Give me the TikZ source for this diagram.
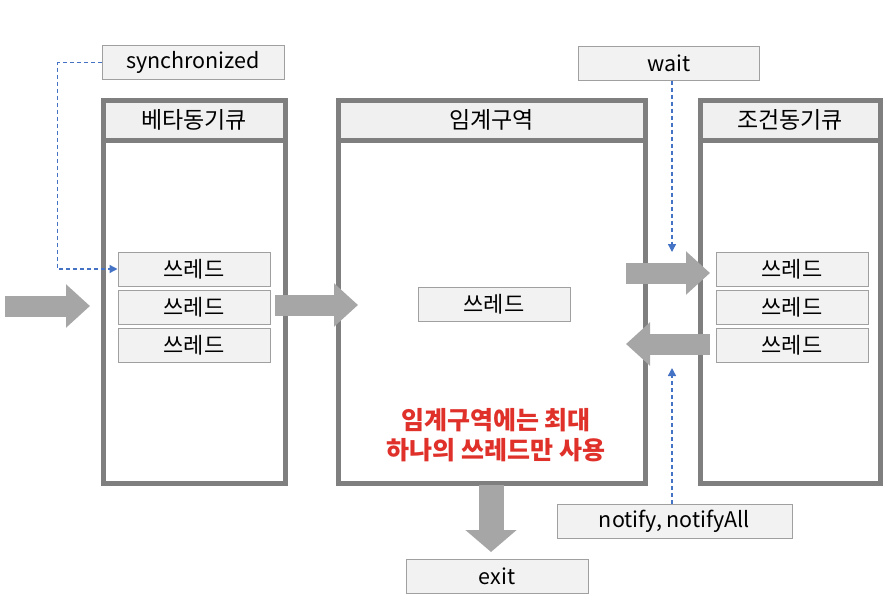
\documentclass[tikz,border=0pt]{standalone}
\usepackage{fontspec}
\setmainfont{Noto Sans CJK KR}
\usetikzlibrary{arrows.meta}
\definecolor{qgray}{HTML}{7F7F7F}
\definecolor{hdrfill}{HTML}{F0F0F0}
\definecolor{thfill}{HTML}{F2F2F2}
\definecolor{thline}{HTML}{A0A0A0}
\definecolor{arrgray}{HTML}{A6A6A6}
\definecolor{dashblue}{HTML}{4472C4}
\definecolor{redtxt}{HTML}{E0302A}
\begin{document}
\begin{tikzpicture}[x=1pt,y=-1pt,
  qbox/.style={draw=qgray,line width=5pt,fill=white,inner sep=0pt},
  hdrbox/.style={draw=qgray,line width=5pt,fill=hdrfill,inner sep=0pt,minimum height=40pt,anchor=north,
    font=\fontsize{23}{26}\selectfont},
  thread/.style={draw=thline,line width=1pt,fill=thfill,minimum width=152pt,minimum height=34pt,inner sep=0pt,
    font=\fontsize{22}{25}\selectfont},
  label/.style={draw=thline,line width=1pt,fill=thfill,minimum height=34pt,inner sep=0pt,
    font=\fontsize{21.5}{24}\selectfont},
  bigarrow/.style={draw=arrgray,line width=21pt,-{Triangle[length=24pt,width=42pt]}},
  dashlink/.style={draw=dashblue,line width=1.4pt,dash pattern=on 4pt off 3pt,-{Triangle[length=8pt,width=8pt]}},
]
\useasboundingbox (0,0) rectangle (894,600);

% queues
\node[qbox,minimum width=182pt,minimum height=383pt] (L) at (194,291.5) {};
\node[hdrbox,minimum width=182pt] (Lh) at (L.north) {베타동기큐};
\node[qbox,minimum width=307pt,minimum height=383pt] (M) at (491.5,291.5) {};
\node[hdrbox,minimum width=307pt] (Mh) at (M.north) {임계구역};
\node[qbox,minimum width=180pt,minimum height=383pt] (R) at (790,291.5) {};
\node[hdrbox,minimum width=180pt] (Rh) at (R.north) {조건동기큐};

% threads
\node[thread] (L1) at (194,269) {쓰레드};
\node[thread] (L2) at (194,307) {쓰레드};
\node[thread] (L3) at (194,345) {쓰레드};
\node[thread] (M1) at (494,304) {쓰레드};
\node[thread] (R1) at (792,269) {쓰레드};
\node[thread] (R2) at (792,307) {쓰레드};
\node[thread] (R3) at (792,345) {쓰레드};

% labels
\node[label,minimum width=182pt] (sync) at (193,62.5) {synchronized};
\node[label,minimum width=181pt] (wait) at (669,63) {wait};
\node[label,minimum width=235pt] (notify) at (674.5,521) {notify, notifyAll};
\node[label,minimum width=182pt] (exit) at (497,576) {exit};

\node[text=redtxt,align=center,font=\fontsize{25}{30}\selectfont\bfseries] (note) at (496,435)
  {임계구역에는 최대\\하나의 쓰레드만 사용};

% big arrows
\coordinate (inS) at (5,306);
\coordinate (inE) at (90,306);
\coordinate (mS) at (275,305);
\coordinate (mE) at (358,305);
\coordinate (rinS) at (626,273);
\coordinate (rinE) at (710,273);
\coordinate (routS) at (710,344);
\coordinate (routE) at (626,344);
\coordinate (exS) at (491,485);
\coordinate (exE) at (491,552);
\draw[bigarrow] (inS) -- (inE);
\draw[bigarrow] (mS) -- (mE);
\draw[bigarrow] (rinS) -- (rinE);
\draw[bigarrow] (routS) -- (routE);
\draw[draw=arrgray,line width=25pt,-{Triangle[length=22pt,width=50pt]}] (exS) -- (exE);

% dashed links
\coordinate (wtip) at (672,252);
\coordinate (ntip) at (672,368);
\draw[dashlink] (sync.west) -- ++(-44,0) |- (L1.west);
\draw[dashlink] (wait.south -| wtip) -- (wtip);
\draw[dashlink] (notify.north -| ntip) -- (ntip);
\end{tikzpicture}
\end{document}
